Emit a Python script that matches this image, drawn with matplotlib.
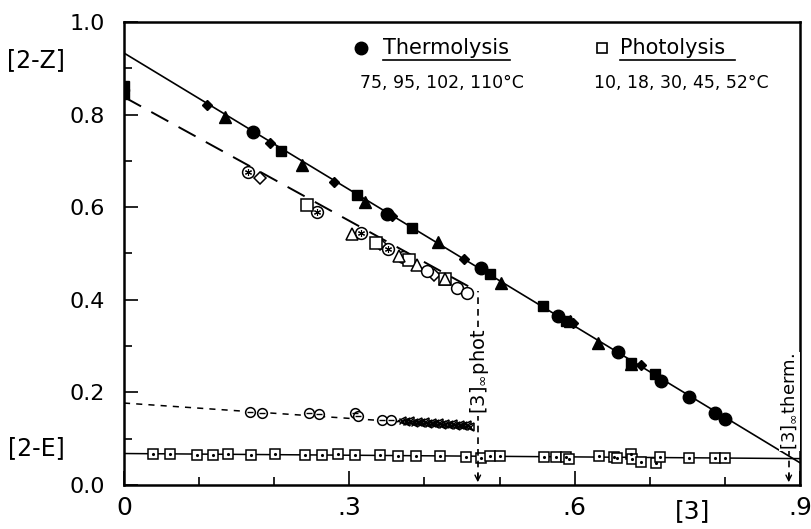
import matplotlib
matplotlib.use('Agg')
import matplotlib.pyplot as plt
from matplotlib.ticker import MultipleLocator, FixedLocator, FixedFormatter

plt.rcParams['font.family'] = 'DejaVu Sans'

# ---- thermolysis [2-Z] (filled symbols, 75-110 C)
therm_circ_x = [0.172, 0.350, 0.475, 0.578, 0.658, 0.715, 0.752, 0.787, 0.800]
therm_circ_y = [0.763, 0.585, 0.468, 0.364, 0.287, 0.225, 0.189, 0.155, 0.143]
therm_sq_x = [0.209, 0.310, 0.384, 0.487, 0.558, 0.589, 0.675, 0.707]
therm_sq_y = [0.722, 0.626, 0.554, 0.455, 0.387, 0.354, 0.263, 0.240]
therm_tri_x = [0.135, 0.237, 0.321, 0.418, 0.502, 0.594, 0.631, 0.675]
therm_tri_y = [0.794, 0.692, 0.612, 0.524, 0.437, 0.354, 0.307, 0.262]
therm_dia_x = [0.111, 0.194, 0.279, 0.357, 0.453, 0.598, 0.688]
therm_dia_y = [0.821, 0.739, 0.655, 0.582, 0.489, 0.350, 0.259]
start_x = [0.0, 0.0]
start_y = [0.845, 0.862]

# ---- photolysis [2-Z] (open symbols, 10-52 C)
phot_star_x = [0.165, 0.257, 0.315, 0.352, 0.372]
phot_star_y = [0.675, 0.590, 0.545, 0.509, 0.492]
phot_dia_x = [0.181, 0.341, 0.413]
phot_dia_y = [0.662, 0.521, 0.454]
phot_sq_x = [0.243, 0.336, 0.379, 0.428]
phot_sq_y = [0.605, 0.523, 0.486, 0.446]
phot_tri_x = [0.303, 0.366, 0.390, 0.428]
phot_tri_y = [0.543, 0.494, 0.475, 0.444]
phot_circ_x = [0.403, 0.443, 0.457]
phot_circ_y = [0.463, 0.425, 0.414]

# ---- photolysis [2-E]
photE_circ_x = [0.168, 0.184, 0.246, 0.259, 0.307, 0.312, 0.344, 0.356]
photE_circ_y = [0.158, 0.155, 0.155, 0.153, 0.155, 0.148, 0.140, 0.140]
photE_dense_x = [0.370, 0.375, 0.381, 0.386, 0.391, 0.396, 0.401, 0.405, 0.410, 0.414,
                 0.419, 0.424, 0.428, 0.433, 0.438, 0.442, 0.447, 0.451, 0.456, 0.460]
photE_dense_y = [0.139, 0.136, 0.138, 0.134, 0.137, 0.133, 0.135, 0.132, 0.134, 0.131,
                 0.133, 0.130, 0.132, 0.129, 0.131, 0.128, 0.130, 0.127, 0.129, 0.126]

# ---- [2-E] squares
e_sq_x = [0.039, 0.061, 0.097, 0.119, 0.139, 0.169, 0.201, 0.241, 0.263, 0.285,
          0.308, 0.341, 0.365, 0.389, 0.421, 0.455, 0.475, 0.487, 0.501, 0.559,
          0.575, 0.588, 0.592, 0.632, 0.652, 0.657, 0.675, 0.676, 0.688, 0.708,
          0.713, 0.752, 0.787, 0.800]
e_sq_y = [0.066, 0.067, 0.065, 0.065, 0.066, 0.065, 0.066, 0.064, 0.065, 0.066,
          0.064, 0.064, 0.063, 0.063, 0.063, 0.061, 0.059, 0.062, 0.063, 0.061,
          0.061, 0.061, 0.056, 0.063, 0.060, 0.058, 0.067, 0.056, 0.050, 0.048,
          0.060, 0.058, 0.058, 0.058]

# fitted lines
therm_line_x = [0.0, 0.90]
therm_line_y = [0.933, 0.048]
photZ_line_x = [0.0, 0.471]
photZ_line_y = [0.838, 0.418]
photE_line_x = [0.0, 0.471]
photE_line_y = [0.177, 0.125]
e_line_x = [0.0, 0.90]
e_line_y = [0.068, 0.057]

x_inf_phot = 0.471
x_inf_therm = 0.885

fig = plt.figure(figsize=(8.12, 5.29), dpi=100)
ax = fig.add_axes([124 / 812, 1 - 485 / 529, 676 / 812, 463 / 529])

ax.plot(therm_line_x, therm_line_y, color='black', lw=1.2)
ax.plot(photZ_line_x, photZ_line_y, color='black', lw=1.4, dashes=(10, 6))
ax.plot(photE_line_x, photE_line_y, color='black', lw=1.1, dashes=(4, 4))
ax.plot(e_line_x, e_line_y, color='black', lw=1.1)

k = dict(color='black', linestyle='none')
ax.plot(therm_circ_x, therm_circ_y, marker='o', ms=9, **k)
ax.plot(therm_sq_x, therm_sq_y, marker='s', ms=7.5, **k)
ax.plot(therm_tri_x, therm_tri_y, marker='^', ms=8.5, **k)
ax.plot(therm_dia_x, therm_dia_y, marker='D', ms=5.5, **k)
ax.plot(start_x, start_y, marker='s', ms=7, **k)

o = dict(color='black', mfc='white', mew=1.1, linestyle='none')
ax.plot(phot_star_x, phot_star_y, marker='o', ms=8.5, **o)
ax.plot(phot_star_x, phot_star_y, marker=(6, 2, 0), ms=5, color='black', mew=0.8, linestyle='none')
ax.plot(phot_dia_x, phot_dia_y, marker='D', ms=6.5, **o)
ax.plot(phot_sq_x, phot_sq_y, marker='s', ms=8.5, **o)
ax.plot(phot_tri_x, phot_tri_y, marker='^', ms=8, **o)
ax.plot(phot_circ_x, phot_circ_y, marker='o', ms=8.5, **o)

ax.plot(photE_circ_x, photE_circ_y, marker='o', ms=7, **o)
ax.plot(photE_circ_x, photE_circ_y, marker='_', ms=5, color='black', mew=1.0, linestyle='none')
ax.plot(photE_dense_x, photE_dense_y, marker='<', ms=5.5, **o)
ax.plot(photE_dense_x, photE_dense_y, marker='x', ms=4, color='black', mew=1.0, linestyle='none')

ax.plot(e_sq_x, e_sq_y, marker='s', ms=6.5, **o)
ax.plot(e_sq_x, e_sq_y, marker='.', ms=2.5, color='black', linestyle='none')

# limiting values of [3]
ax.plot([x_inf_phot, x_inf_phot], [0.012, photZ_line_y[1]], color='black', lw=1.2, dashes=(4, 3))
ax.annotate('', xy=(x_inf_phot, 0.0), xytext=(x_inf_phot, 0.03),
            arrowprops=dict(arrowstyle='->', color='black', lw=1.0))
ax.text(x_inf_phot + 0.002, 0.245, r'$[3]_{\infty}$phot', rotation=90, ha='center', va='center',
        fontsize=14, bbox=dict(facecolor='white', edgecolor='none', pad=1))

ax.plot([x_inf_therm, x_inf_therm], [0.012, 0.075], color='black', lw=1.2, dashes=(4, 3))
ax.annotate('', xy=(x_inf_therm, 0.0), xytext=(x_inf_therm, 0.03),
            arrowprops=dict(arrowstyle='->', color='black', lw=1.0))
ax.text(x_inf_therm + 0.001, 0.18, r'$[3]_{\infty}$therm.', rotation=90, ha='center', va='center',
        fontsize=13, bbox=dict(facecolor='white', edgecolor='none', pad=0.5))

# legend block
ax.plot([0.351], [0.944], marker='o', ms=9, color='black', transform=ax.transAxes, clip_on=False)
ax.text(0.383, 0.944, 'Thermolysis', fontsize=15, va='center', ha='left', transform=ax.transAxes)
ax.plot([0.383, 0.571], [0.918, 0.918], color='black', lw=1.2, transform=ax.transAxes)
ax.text(0.470, 0.868, '75, 95, 102, 110°C', fontsize=12.5, va='center', ha='center', transform=ax.transAxes)

ax.plot([0.707], [0.944], marker='s', ms=7, color='black', mfc='white', mew=1.2,
        transform=ax.transAxes, clip_on=False)
ax.text(0.734, 0.944, 'Photolysis', fontsize=15, va='center', ha='left', transform=ax.transAxes)
ax.plot([0.734, 0.904], [0.918, 0.918], color='black', lw=1.2, transform=ax.transAxes)
ax.text(0.825, 0.868, '10, 18, 30, 45, 52°C', fontsize=12.5, va='center', ha='center', transform=ax.transAxes)

ax.set_xlim(0, 0.9)
ax.set_ylim(0, 1.0)

ax.xaxis.set_major_locator(FixedLocator([0, 0.3, 0.6, 0.9]))
ax.xaxis.set_major_formatter(FixedFormatter(['0', '.3', '.6', '.9']))
ax.xaxis.set_minor_locator(MultipleLocator(0.1))
ax.yaxis.set_major_locator(MultipleLocator(0.2))
ax.yaxis.set_major_formatter(plt.FuncFormatter(lambda v, p: f'{v:.1f}'))
ax.yaxis.set_minor_locator(MultipleLocator(0.1))
ax.tick_params(which='both', direction='in', width=1.2)
ax.tick_params(which='major', length=10)
ax.tick_params(which='minor', length=6)
ax.tick_params(axis='y', which='major', pad=14, labelsize=16)
ax.tick_params(axis='x', which='major', pad=8, labelsize=18)
for s in ax.spines.values():
    s.set_linewidth(1.8)

fig.text(36 / 812, 1 - 60 / 529, '[2-Z]', fontsize=17, ha='center', va='center')
fig.text(36 / 812, 1 - 448 / 529, '[2-E]', fontsize=17, ha='center', va='center')
fig.text(693 / 812, 1 - 511 / 529, '[3]', fontsize=18, ha='center', va='center')

fig.savefig('out.png', dpi=100)
